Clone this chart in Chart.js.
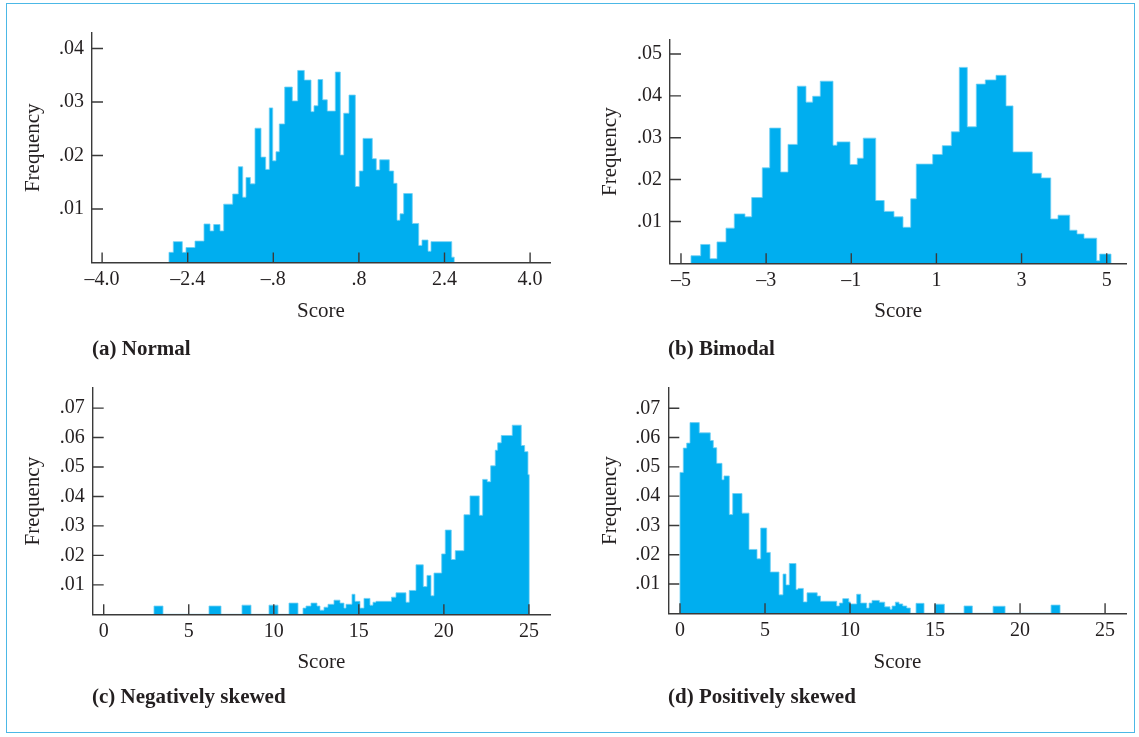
<!DOCTYPE html>
<html>
<head>
<meta charset="utf-8">
<script src="https://cdn.jsdelivr.net/npm/chart.js@4.4.0/dist/chart.umd.min.js"></script>
<style>
html, body { margin: 0; padding: 0; background: #ffffff; }
#fig { position: relative; width: 1139px; height: 737px; overflow: hidden; font-family: "Liberation Serif", "Times New Roman", serif; }
#frame { position: absolute; left: 6px; top: 3px; width: 1129px; height: 730px; border: 1.5px solid #4cb8e6; box-sizing: border-box; }
canvas { position: absolute; }
.cap { position: absolute; font-weight: bold; font-size: 21px; line-height: 24px; color: #231f20; white-space: nowrap; }
</style>
</head>
<body>
<div id="fig">
  <div id="frame"></div>
  <canvas id="cA" width="570" height="368" style="left:0px;top:0px"></canvas>
  <canvas id="cB" width="569" height="368" style="left:570px;top:0px"></canvas>
  <canvas id="cC" width="570" height="369" style="left:0px;top:368px"></canvas>
  <canvas id="cD" width="569" height="369" style="left:570px;top:368px"></canvas>
  <div class="cap" style="left:92px;top:336px">(a) Normal</div>
  <div class="cap" style="left:668px;top:336px">(b) Bimodal</div>
  <div class="cap" style="left:92px;top:684px">(c) Negatively skewed</div>
  <div class="cap" style="left:668px;top:684px">(d) Positively skewed</div>
</div>
<script>
// ---------- DATA (bin edges on the Score axis, frequency of each bin) ----------
const normalEdges = [-2.750, -2.669, -2.501, -2.432, -2.264, -2.095, -1.983, -1.914, -1.796, -1.727,
  -1.559, -1.454, -1.372, -1.310, -1.230, -1.142, -1.030, -0.942, -0.875, -0.811,
  -0.750, -0.688, -0.587, -0.445, -0.344, -0.221, -0.095, -0.039, 0.036, 0.123,
  0.209, 0.359, 0.452, 0.516, 0.615, 0.733, 0.807, 0.877, 1.050, 1.125,
  1.189, 1.368, 1.450, 1.512, 1.568, 1.637, 1.798, 1.918, 1.979, 2.092,
  2.148, 2.535, 2.583];
const normalFreq = [0.0019, 0.0039, 0.0019, 0.0028, 0.0040, 0.0072, 0.0059, 0.0071, 0.0059, 0.0109,
  0.0128, 0.0179, 0.0122, 0.0159, 0.0147, 0.0251, 0.0197, 0.0174, 0.0289, 0.0190,
  0.0207, 0.0259, 0.0328, 0.0302, 0.0359, 0.0341, 0.0282, 0.0293, 0.0342, 0.0304,
  0.0283, 0.0356, 0.0201, 0.0279, 0.0313, 0.0142, 0.0171, 0.0232, 0.0194, 0.0173,
  0.0192, 0.0171, 0.0148, 0.0079, 0.0091, 0.0129, 0.0073, 0.0032, 0.0042, 0.0021,
  0.0039, 0.0010];
const normalXTicks = [-4, -2.4, -0.8, 0.8, 2.4, 4];
const normalXLabels = ['\u20134.0', '\u20132.4', '\u2013.8', '.8', '2.4', '4.0'];
const normalYTicks = [0.01, 0.02, 0.03, 0.04];
const normalYLabels = ['.01', '.02', '.03', '.04'];

const bimodalEdges = [-4.765, -4.537, -4.319, -4.154, -3.943, -3.748, -3.497, -3.339, -3.090, -2.916,
  -2.658, -2.486, -2.268, -2.064, -1.906, -1.728, -1.429, -1.335, -1.030, -0.859,
  -0.718, -0.426, -0.227, 0.003, 0.215, 0.396, 0.527, 0.913, 1.138, 1.350,
  1.538, 1.725, 1.937, 2.148, 2.400, 2.635, 2.799, 3.252, 3.464, 3.685,
  3.856, 4.131, 4.302, 4.467, 4.765, 4.836, 5.101];
const bimodalFreq = [0.0018, 0.0045, 0.0011, 0.0051, 0.0084, 0.0118, 0.0111, 0.0157, 0.0228, 0.0323,
  0.0218, 0.0284, 0.0423, 0.0385, 0.0399, 0.0435, 0.0282, 0.0290, 0.0236, 0.0251,
  0.0299, 0.0150, 0.0124, 0.0111, 0.0086, 0.0154, 0.0237, 0.0260, 0.0281, 0.0314,
  0.0468, 0.0326, 0.0428, 0.0438, 0.0449, 0.0376, 0.0266, 0.0215, 0.0204, 0.0106,
  0.0115, 0.0079, 0.0070, 0.0060, 0.0006, 0.0022];
const bimodalXTicks = [-5, -3, -1, 1, 3, 5];
const bimodalXLabels = ['\u20135', '\u20133', '\u20131', '1', '3', '5'];
const bimodalYTicks = [0.01, 0.02, 0.03, 0.04, 0.05];
const bimodalYLabels = ['.01', '.02', '.03', '.04', '.05'];

const negSkewEdges = [2.957, 3.486, 6.190, 6.896, 8.131, 8.660, 9.718, 10.247, 10.894, 11.423,
  11.717, 11.893, 12.187, 12.540, 12.716, 12.951, 13.186, 13.539, 13.892, 14.127,
  14.245, 14.597, 14.774, 15.068, 15.303, 15.655, 15.832, 16.008, 16.920, 17.184,
  17.772, 17.966, 18.360, 18.789, 19.006, 19.242, 19.418, 19.871, 20.082, 20.435,
  20.670, 21.181, 21.535, 22.081, 22.281, 22.551, 22.751, 23.022, 23.163, 23.374,
  24.021, 24.550, 24.750, 24.944, 25.021];
const negSkewFreq = [0.0028, 0, 0.0028, 0, 0.0031, 0, 0.0031, 0, 0.0038, 0,
  0.0021, 0.0028, 0.0038, 0.0028, 0.0014, 0.0024, 0.0034, 0.0048, 0.0038, 0.0021,
  0.0034, 0.0068, 0.0044, 0.0021, 0.0054, 0.0031, 0.0041, 0.0044, 0.0058, 0.0073,
  0.0041, 0.0081, 0.0168, 0.0094, 0.0132, 0.0063, 0.0140, 0.0205, 0.0286, 0.0186,
  0.0216, 0.0338, 0.0402, 0.0336, 0.0458, 0.0450, 0.0504, 0.0557, 0.0582, 0.0607,
  0.0642, 0.0573, 0.0552, 0.0474];

const posSkewEdges = [0, 0.194, 0.394, 0.588, 1.135, 1.782, 1.959, 2.159, 2.471, 2.588,
  2.900, 3.100, 3.647, 4.059, 4.529, 4.747, 5.100, 5.312, 5.824, 6.059,
  6.235, 6.429, 6.824, 6.941, 7.253, 7.471, 8.071, 8.265, 9.218, 9.371,
  9.571, 9.924, 10.018, 10.394, 10.629, 10.982, 11.118, 11.294, 11.724, 12.041,
  12.353, 12.471, 12.665, 12.882, 13.100, 13.335, 13.547, 13.882, 14.353, 14.982,
  15.547, 16.706, 17.194, 18.412, 19.118, 21.824, 22.353];
const posSkewFreq = [0.0481, 0.0564, 0.0581, 0.0651, 0.0616, 0.0590, 0.0565, 0.0512, 0.0456, 0.0469,
  0.0337, 0.0409, 0.0342, 0.0218, 0.0186, 0.0291, 0.0208, 0.0141, 0.0063, 0.0134,
  0.0097, 0.0170, 0.0081, 0.0085, 0.0039, 0.0070, 0.0059, 0.0041, 0.0025, 0.0035,
  0.0050, 0.0039, 0.0032, 0.0065, 0.0035, 0.0018, 0.0035, 0.0044, 0.0038, 0.0022,
  0.0014, 0.0025, 0.0038, 0.0032, 0.0025, 0.0018, 0, 0.0034, 0, 0.0031,
  0, 0.0025, 0, 0.0024, 0, 0.0028];

const skewXTicks = [0, 5, 10, 15, 20, 25];
const skewXLabels = ['0', '5', '10', '15', '20', '25'];
const skewYTicks = [0.01, 0.02, 0.03, 0.04, 0.05, 0.06, 0.07];
const skewYLabels = ['.01', '.02', '.03', '.04', '.05', '.06', '.07'];

const xTitle = 'Score';
const yTitle = 'Frequency';

// ---------- STYLE / LAYOUT ----------
const FONT = '"Liberation Serif", "Times New Roman", serif';
const TEXT = '#231f20';
const AXIS = '#3a3a3a';
const FILL = '#00aeef';
const EDGE = '#6fcff4';

const panels = [
  { canvas: 'cA', edges: normalEdges, freq: normalFreq, xTicks: normalXTicks, xLabels: normalXLabels,
    yTicks: normalYTicks, yLabels: normalYLabels, xMin: -4.189, xMax: 4.372, yMax: 0.0429,
    L: 0, T: 0, W: 570, H: 368, area: { l: 92, t: 33, r: 550, b: 262.5 }, yTitlePad: 20.4, xTitlePad: 44.4 },
  { canvas: 'cB', edges: bimodalEdges, freq: bimodalFreq, xTicks: bimodalXTicks, xLabels: bimodalXLabels,
    yTicks: bimodalYTicks, yLabels: bimodalYLabels, xMin: -5.258, xMax: 5.465, yMax: 0.05334,
    L: 570, T: 0, W: 569, H: 368, area: { l: 670, t: 40, r: 1126.5, b: 263.3 }, yTitlePad: 27.4, xTitlePad: 44.4 },
  { canvas: 'cC', edges: negSkewEdges, freq: negSkewFreq, xTicks: skewXTicks, xLabels: skewXLabels,
    yTicks: skewYTicks, yLabels: skewYLabels, xMin: -0.647, xMax: 26.24, yMax: 0.07682,
    L: 0, T: 368, W: 570, H: 369, area: { l: 92.7, t: 383.3, r: 550, b: 614.3 }, yTitlePad: 20.4, xTitlePad: 62.4 },
  { canvas: 'cD', edges: posSkewEdges, freq: posSkewFreq, xTicks: skewXTicks, xLabels: skewXLabels,
    yTicks: skewYTicks, yLabels: skewYLabels, xMin: -0.688, xMax: 26.26, yMax: 0.07692,
    L: 570, T: 368, W: 569, H: 369, area: { l: 668.3, t: 383, r: 1126.5, b: 613.3 }, yTitlePad: 27.4, xTitlePad: 62.4 }
];

// tick marks that point into the plot, drawn over the bars
const inwardTicks = {
  id: 'inwardTicks',
  afterDraw(chart) {
    const { ctx, chartArea, scales } = chart;
    ctx.save();
    ctx.strokeStyle = AXIS;
    ctx.lineWidth = 1.4;
    ctx.beginPath();
    scales.x.ticks.forEach(t => {
      const px = scales.x.getPixelForValue(t.value);
      ctx.moveTo(px, chartArea.bottom);
      ctx.lineTo(px, chartArea.bottom - 10);
    });
    scales.y.ticks.forEach(t => {
      const py = scales.y.getPixelForValue(t.value);
      ctx.moveTo(chartArea.left, py);
      ctx.lineTo(chartArea.left + 11, py);
    });
    ctx.stroke();
    ctx.restore();
  }
};

function makeChart(p) {
  // each bin: a point at its left edge carrying its frequency; stepped 'before'
  // keeps that height until the next edge (histogram outline)
  const pts = [{ x: p.edges[0], y: 0 }];
  p.freq.forEach((f, i) => pts.push({ x: p.edges[i], y: f }));
  pts.push({ x: p.edges[p.edges.length - 1], y: 0 });

  new Chart(document.getElementById(p.canvas), {
    type: 'line',
    data: {
      datasets: [{
        data: pts,
        stepped: 'before',
        fill: 'origin',
        backgroundColor: FILL,
        borderColor: EDGE,
        borderWidth: 0.8,
        pointRadius: 0,
        pointHoverRadius: 0,
        tension: 0
      }]
    },
    options: {
      responsive: false,
      devicePixelRatio: 1,
      animation: false,
      events: [],
      layout: { padding: { left: 0, top: p.area.t - p.T, right: p.L + p.W - p.area.r, bottom: 0 } },
      plugins: { legend: { display: false }, tooltip: { enabled: false } },
      scales: {
        x: {
          type: 'linear', min: p.xMin, max: p.xMax,
          afterBuildTicks: s => { s.ticks = p.xTicks.map(v => ({ value: v })); },
          afterFit: s => { s.height = p.T + p.H - p.area.b; },
          grid: { display: false, drawTicks: false },
          border: { display: true, color: AXIS, width: 1.4, z: 1 },
          ticks: { autoSkip: false, maxRotation: 0, padding: 5, color: TEXT,
                   font: { family: FONT, size: 20 }, callback: (v, i) => p.xLabels[i] },
          title: { display: true, text: xTitle, color: TEXT, font: { family: FONT, size: 21 },
                   padding: { top: 0, bottom: p.xTitlePad } }
        },
        y: {
          type: 'linear', min: 0, max: p.yMax,
          afterBuildTicks: s => { s.ticks = p.yTicks.map(v => ({ value: v })); },
          afterFit: s => { s.width = p.area.l - p.L; },
          grid: { display: false, drawTicks: false },
          border: { display: true, color: AXIS, width: 1.4, z: 1 },
          ticks: { autoSkip: false, padding: 8, color: TEXT,
                   font: { family: FONT, size: 20 }, callback: (v, i) => p.yLabels[i] },
          title: { display: true, text: yTitle, color: TEXT, font: { family: FONT, size: 21 },
                   padding: { top: p.yTitlePad, bottom: 0 } }
        }
      }
    },
    plugins: [inwardTicks]
  });
}

panels.forEach(makeChart);
</script>
</body>
</html>
